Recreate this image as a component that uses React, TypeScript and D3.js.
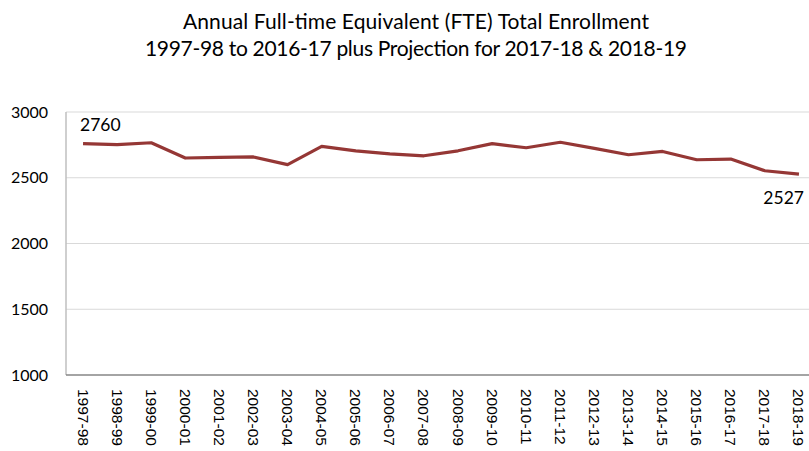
import React from 'react';
import * as d3 from 'd3';

const years = [
  '1997-98', '1998-99', '1999-00', '2000-01', '2001-02', '2002-03', '2003-04',
  '2004-05', '2005-06', '2006-07', '2007-08', '2008-09', '2009-10', '2010-11',
  '2011-12', '2012-13', '2013-14', '2014-15', '2015-16', '2016-17', '2017-18',
  '2018-19',
];

const fte = [
  2760, 2752, 2766, 2650, 2655, 2658, 2600, 2738, 2705, 2682, 2667, 2705,
  2760, 2728, 2770, 2723, 2675, 2700, 2637, 2642, 2553, 2527,
];

const yTicks = [1000, 1500, 2000, 2500, 3000];

const titleLines = [
  'Annual Full-time Equivalent (FTE) Total Enrollment',
  '1997-98 to 2016-17 plus Projection for 2017-18 & 2018-19',
];

const W = 809;
const H = 451;
const plot = { left: 66, right: 816, top: 112, bottom: 375 };

export default function App() {
  const x = d3.scalePoint<string>()
    .domain(years)
    .range([plot.left, plot.right])
    .padding(0.5);

  const y = d3.scaleLinear()
    .domain([1000, 3000])
    .range([plot.bottom, plot.top]);

  const line = d3.line<number>()
    .x((d, i) => x(years[i]) as number)
    .y(d => y(d));

  const first = 0;
  const last = fte.length - 1;

  return (
    <svg width={W} height={H} style={{ position: 'absolute', left: 0, top: 0, background: '#fff' }}>
      <g fontFamily="Lato, 'Open Sans', sans-serif" fontSize={21} fill="#000" textAnchor="middle">
        <text x={416} y={29} textLength={466} lengthAdjust="spacing">{titleLines[0]}</text>
        <text x={416} y={56} textLength={542} lengthAdjust="spacing">{titleLines[1]}</text>
      </g>

      {yTicks.filter(t => t > 1000).map(t => (
        <line key={t} x1={plot.left} x2={W} y1={y(t)} y2={y(t)} stroke="#d9d9d9" strokeWidth={1} />
      ))}
      <line x1={plot.left} x2={plot.left} y1={plot.top} y2={plot.bottom} stroke="#bfbfbf" strokeWidth={1.5} />
      <line x1={plot.left} x2={W} y1={plot.bottom} y2={plot.bottom} stroke="#868686" strokeWidth={1.5} />

      <g fontFamily="Lato, 'Open Sans', sans-serif" fontSize={16} textAnchor="end">
        {yTicks.map(t => (
          <text key={t} x={48} y={y(t)} dy="0.35em">{t}</text>
        ))}
      </g>

      <g fontFamily="'Liberation Sans', Arial, sans-serif" fontSize={15.5}>
        {years.map(yr => (
          <text key={yr} transform={`translate(${(x(yr) as number) - 5.5},389) rotate(90)`}>
            {yr}
          </text>
        ))}
      </g>

      <path d={line(fte) ?? ''} fill="none" stroke="#953735" strokeWidth={3.2} strokeLinejoin="round" />

      <g fontFamily="Lato, 'Open Sans', sans-serif" fontSize={17.5}>
        <text x={(x(years[first]) as number) - 3} y={y(fte[first]) - 13}>{fte[first]}</text>
        <text x={(x(years[last]) as number) + 5} y={y(fte[last]) + 30} textAnchor="end">{fte[last]}</text>
      </g>
    </svg>
  );
}
